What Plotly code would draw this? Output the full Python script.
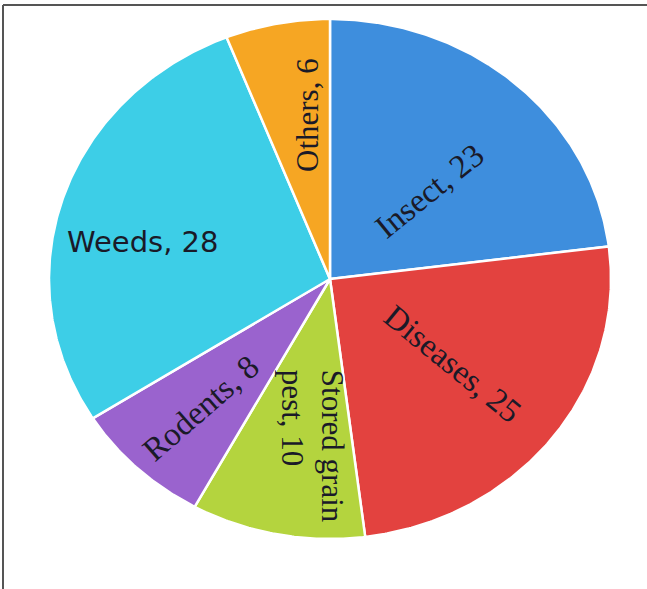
import math
import plotly.graph_objects as go

labels = ["Insect", "Diseases", "Stored grain pest", "Rodents", "Weeds", "Others"]
text_labels = ["Insect, 23", "Diseases, 25", "Stored grain<br>pest, 10", "Rodents, 8", "Weeds, 28", "Others, 6"]
values = [23, 25, 10, 8, 28, 6]

# styling
colors = ["#3E8EDD", "#E3423F", "#B4D43E", "#9A63CE", "#3DCEE7", "#F6A623"]
text_angles = [-39, 39, 90, -41, 0, -90]
label_frac = [0.49, 0.546, 0.645, 0.676, 0.68, 0.636]
label_shift = [4.6, -0.9, -5.1, -0.4, -5.9, 3.4]
label_fonts = ["Liberation Serif"] * 4 + ["DejaVu Sans"] + ["Liberation Serif"]
label_sizes = [33, 33, 31, 33, 29, 31]
label_align = ["center", "center", "left", "center", "center", "center"]

W, H = 647, 589
cx, cy, rx, ry = 330, 279, 281, 260

fig = go.Figure()
total = sum(values)
start = 0.0
annotations = []
for i, v in enumerate(values):
    a0 = start / total * 360
    a1 = (start + v) / total * 360
    n = max(int(a1 - a0) * 2, 8)
    xs, ys = [cx], [cy]
    for k in range(n + 1):
        t = math.radians(a0 + (a1 - a0) * k / n)
        xs.append(cx + rx * math.sin(t))
        ys.append(cy - ry * math.cos(t))
    xs.append(cx)
    ys.append(cy)
    fig.add_trace(go.Scatter(
        x=xs, y=ys, mode="lines", fill="toself", fillcolor=colors[i],
        line=dict(color="white", width=2.5), name=labels[i],
        hoverinfo="text", hoveron="fills", text=f"{labels[i]}: {v}", showlegend=False,
    ))
    mid = math.radians((a0 + a1) / 2 + label_shift[i])
    annotations.append(dict(
        x=cx + label_frac[i] * rx * math.sin(mid),
        y=cy - label_frac[i] * ry * math.cos(mid),
        xref="x", yref="y", text=text_labels[i], showarrow=False,
        textangle=text_angles[i], align=label_align[i],
        font=dict(family=label_fonts[i], size=label_sizes[i], color="#1a1a28"),
    ))
    start += v

fig.update_layout(
    width=W, height=H, autosize=False, margin=dict(l=0, r=0, t=0, b=0),
    paper_bgcolor="white", plot_bgcolor="white",
    xaxis=dict(range=[0, W], visible=False, fixedrange=True),
    yaxis=dict(range=[H, 0], visible=False, fixedrange=True),
    annotations=annotations,
    shapes=[
        dict(type="line", xref="x", yref="y", x0=3, x1=W, y0=5, y1=5,
             line=dict(color="#555555", width=2)),
        dict(type="line", xref="x", yref="y", x0=3, x1=3, y0=5, y1=H,
             line=dict(color="#555555", width=2)),
    ],
)
fig.write_html("out.html")
